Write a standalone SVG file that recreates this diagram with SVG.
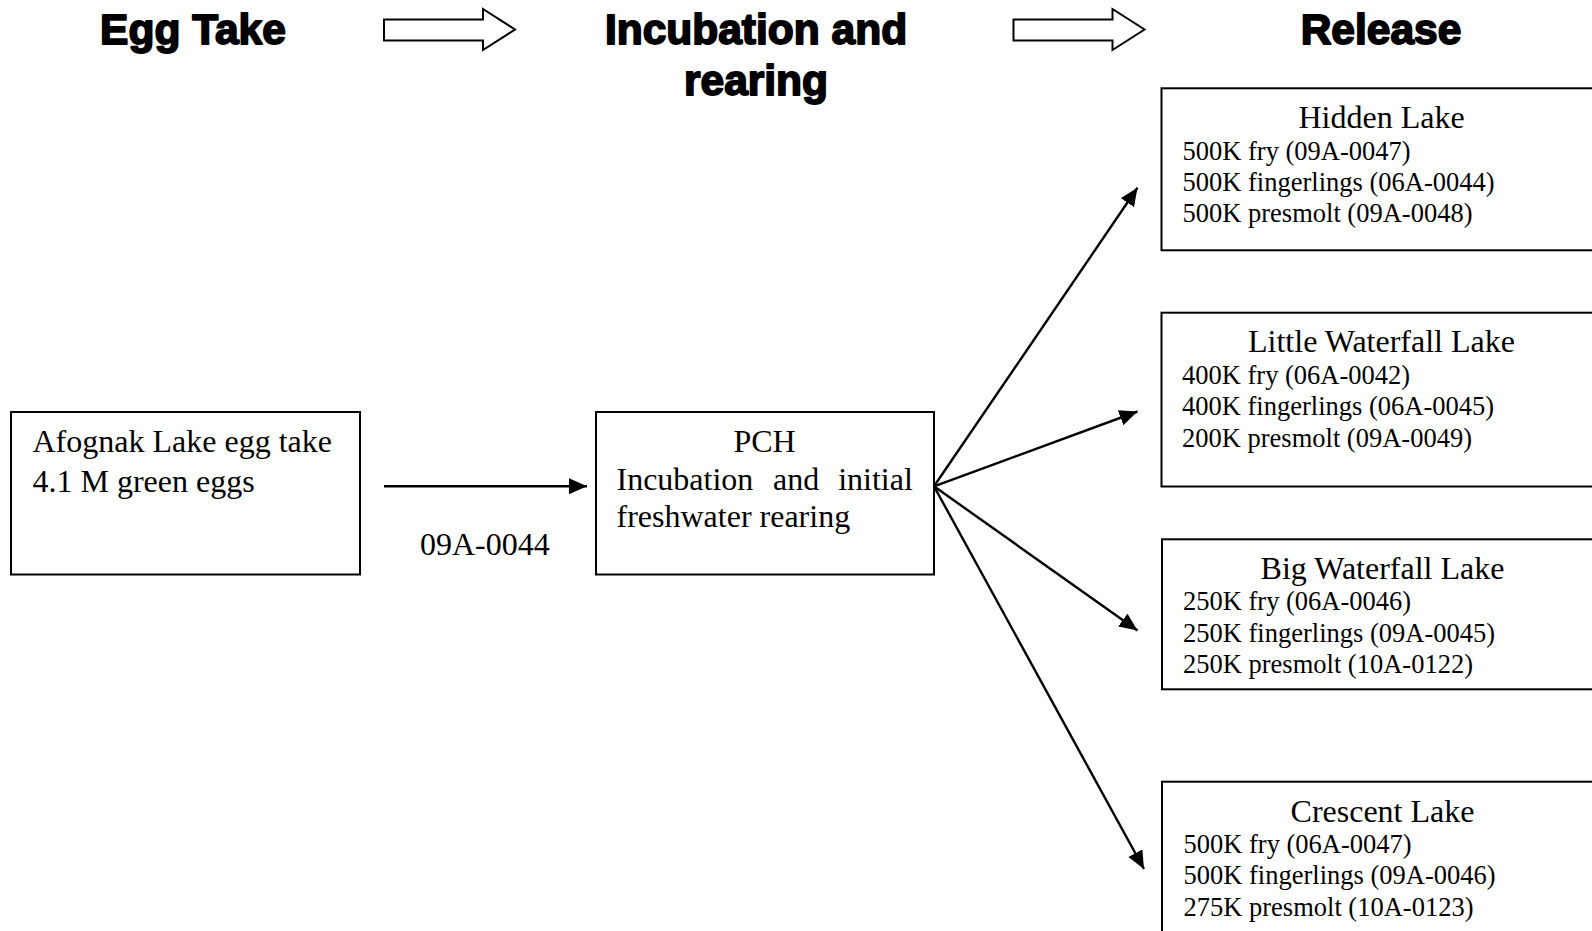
<svg xmlns="http://www.w3.org/2000/svg" width="1592" height="931" viewBox="0 0 1592 931">
  <style>
    .bg { fill: #ffffff; }
    .box { fill: #ffffff; stroke: #000000; stroke-width: 2; }
    .stage { font-family: "Liberation Sans", Arial, sans-serif; font-weight: bold; font-size: 42.5px; fill: #000000; stroke: #000000; stroke-width: 1.8; stroke-linejoin: round; text-anchor: middle; }
    .block { fill: #ffffff; stroke: #000000; stroke-width: 2; stroke-linejoin: miter; }
    .txt { font-family: "Liberation Serif", "Times New Roman", serif; font-size: 32px; fill: #000000; }
    .title { font-family: "Liberation Serif", "Times New Roman", serif; font-size: 32px; fill: #000000; text-anchor: middle; }
    .item { font-family: "Liberation Serif", "Times New Roman", serif; font-size: 26.5px; fill: #000000; }
    .conn { fill: none; stroke: #000000; stroke-width: 2.4; marker-end: url(#head); }
  </style>
  <defs>
    <marker id="head" markerUnits="userSpaceOnUse" markerWidth="20" markerHeight="17" refX="18" refY="8" orient="auto">
      <path d="M0,0 L18,8 L0,16 Z" fill="#000000"/>
    </marker>
  </defs>

  <rect class="bg" x="0" y="0" width="1592" height="931"/>

  <!-- Stage headings -->
  <g id="stage-headings">
    <text class="stage" x="193" y="44">Egg Take</text>
    <text class="stage" x="756" y="44">Incubation and</text>
    <text class="stage" x="756" y="95">rearing</text>
    <text class="stage" x="1381" y="44">Release</text>
  </g>

  <!-- Hollow block arrows between stages -->
  <g id="stage-arrows">
    <path class="block" d="M384,19.5 L483,19.5 L483,9 L515,29.5 L483,50 L483,40.5 L384,40.5 Z"/>
    <path class="block" d="M1013.5,19.5 L1112.5,19.5 L1112.5,9 L1144.5,29.5 L1112.5,50 L1112.5,40.5 L1013.5,40.5 Z"/>
  </g>

  <!-- Connectors -->
  <g id="connectors">
    <line class="conn" x1="384" y1="486.3" x2="587" y2="486.3"/>
    <line class="conn" x1="934" y1="486.3" x2="1137.5" y2="187.8"/>
    <line class="conn" x1="934" y1="486.3" x2="1137.5" y2="411.5"/>
    <line class="conn" x1="934" y1="486.3" x2="1137.5" y2="630.5"/>
    <line class="conn" x1="934" y1="486.3" x2="1144" y2="869"/>
  </g>

  <!-- Connector label -->
  <g id="label-egg-lot">
    <text class="txt" x="484.8" y="555" text-anchor="middle">09A-0044</text>
  </g>

  <!-- Egg take source -->
  <g id="node-afognak">
    <rect class="box" x="11" y="412" width="349" height="162.5"/>
    <text class="txt" x="32.5" y="452">Afognak Lake egg take</text>
    <text class="txt" x="32.5" y="491.5">4.1 M green eggs</text>
  </g>

  <!-- Hatchery -->
  <g id="node-pch">
    <rect class="box" x="596" y="412" width="338" height="162.5"/>
    <text class="title" x="764.5" y="452">PCH</text>
    <text class="txt" x="616.5" y="489.5">Incubation</text>
    <text class="txt" x="773" y="489.5">and</text>
    <text class="txt" x="912.8" y="489.5" text-anchor="end">initial</text>
    <text class="txt" x="616.5" y="527">freshwater rearing</text>
  </g>

  <!-- Release sites -->
  <g id="node-hidden-lake">
    <rect class="box" x="1161.5" y="88.3" width="460" height="162"/>
    <text class="title" x="1381.5" y="128">Hidden Lake</text>
    <text class="item" x="1182.5" y="160">500K fry (09A-0047)</text>
    <text class="item" x="1182.5" y="191">500K fingerlings (06A-0044)</text>
    <text class="item" x="1182.5" y="222">500K presmolt (09A-0048)</text>
  </g>

  <g id="node-little-waterfall-lake">
    <rect class="box" x="1161.5" y="312.7" width="460" height="173.8"/>
    <text class="title" x="1381.5" y="352">Little Waterfall Lake</text>
    <text class="item" x="1182" y="383.5">400K fry (06A-0042)</text>
    <text class="item" x="1182" y="415">400K fingerlings (06A-0045)</text>
    <text class="item" x="1182" y="446.5">200K presmolt (09A-0049)</text>
  </g>

  <g id="node-big-waterfall-lake">
    <rect class="box" x="1162" y="539.3" width="460" height="150"/>
    <text class="title" x="1382.5" y="579">Big Waterfall Lake</text>
    <text class="item" x="1183" y="610">250K fry (06A-0046)</text>
    <text class="item" x="1183" y="641.5">250K fingerlings (09A-0045)</text>
    <text class="item" x="1183" y="673">250K presmolt (10A-0122)</text>
  </g>

  <g id="node-crescent-lake">
    <rect class="box" x="1162" y="781.7" width="460" height="200"/>
    <text class="title" x="1382.5" y="821.5">Crescent Lake</text>
    <text class="item" x="1183.5" y="853">500K fry (06A-0047)</text>
    <text class="item" x="1183.5" y="884">500K fingerlings (09A-0046)</text>
    <text class="item" x="1183.5" y="915.5">275K presmolt (10A-0123)</text>
  </g>
</svg>
